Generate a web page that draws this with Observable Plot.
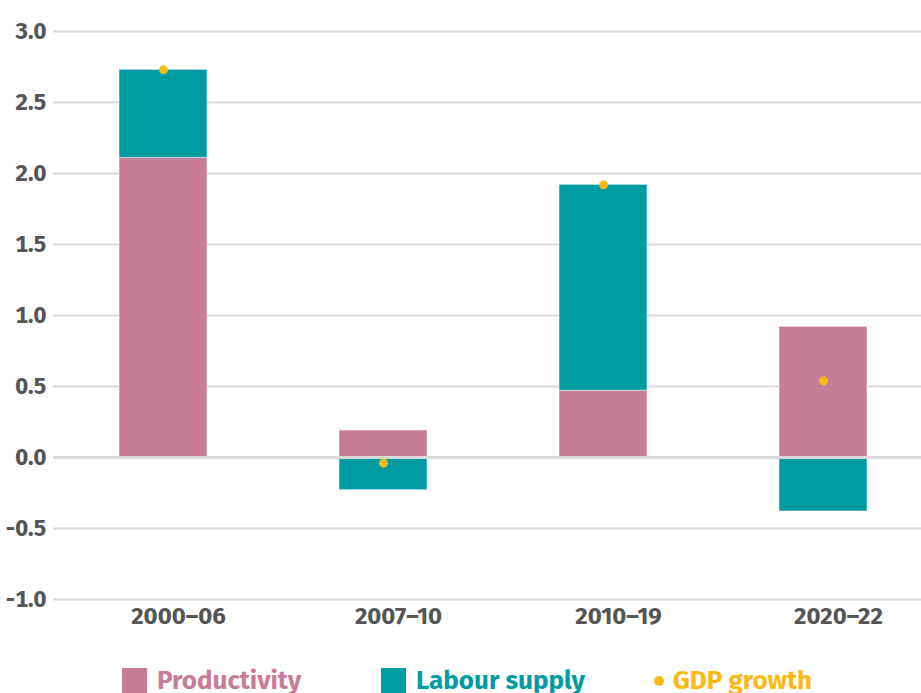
<!DOCTYPE html>
<html>
<head>
<meta charset="utf-8">
<script src="https://cdn.jsdelivr.net/npm/d3@7"></script>
<script src="https://cdn.jsdelivr.net/npm/@observablehq/plot@0.6"></script>
<style>
  html, body { margin: 0; padding: 0; background: #fff; overflow: hidden; }
  #wrap { position: relative; width: 921px; height: 693px; font-family: "Fira Sans", "Open Sans", sans-serif; }
  .legend { position: absolute; top: 665px; left: 0; width: 921px; height: 40px; font-size: 26px; font-weight: 700; }
  .item { position: absolute; top: 0; display: flex; align-items: center; white-space: nowrap; }
  .sw { width: 25px; height: 25px; margin-right: 10px; }
  .dot { width: 10px; height: 10px; border-radius: 50%; margin-right: 9px; }
</style>
</head>
<body>
<div id="wrap"></div>
<script>
// Contributions to GDP growth by period (percentage points)
const periods = ["2000–06", "2007–10", "2010–19", "2020–22"];
const productivity = [2.11, 0.19, 0.47, 0.92];
const labourSupply = [0.62, -0.23, 1.45, -0.38];
const gdpGrowth = [2.73, -0.04, 1.92, 0.54];
const yTicks = [-1, -0.5, 0, 0.5, 1, 1.5, 2, 2.5, 3];

const seriesNames = ["Productivity", "Labour supply"];
const seriesColors = ["#c77d97", "#009ca3"];
const dotColor = "#fdb913";
const textColor = "#555555";
const gridColor = "#d9d9d9";

const bars = [];
periods.forEach((p, i) => {
  bars.push({period: p, series: seriesNames[0], value: productivity[i]});
  bars.push({period: p, series: seriesNames[1], value: labourSupply[i]});
});
const dots = periods.map((p, i) => ({period: p, value: gdpGrowth[i]}));

const chart = Plot.plot({
  width: 921,
  height: 655,
  marginLeft: 53,
  marginRight: 0,
  marginTop: 31,
  marginBottom: 56,
  style: {fontFamily: '"Fira Sans", "Open Sans", sans-serif', fontSize: "24px", fontWeight: 700, color: textColor, background: "#fff"},
  x: {domain: periods, range: [53, 933], paddingInner: 0.6, paddingOuter: 0.3, label: null},
  y: {domain: [-1, 3], label: null},
  color: {domain: seriesNames, range: seriesColors},
  marks: [
    Plot.gridY(yTicks, {stroke: gridColor, strokeOpacity: 1, strokeWidth: 2}),
    Plot.barY(bars, Plot.stackY({x: "period", y: "value", fill: "series", order: seriesNames, stroke: "#ffffff", strokeWidth: 1, strokeOpacity: 0.5})),
    Plot.ruleY([0], {stroke: gridColor, strokeWidth: 3}),
    Plot.dot(dots, {x: "period", y: "value", r: 4.5, fill: dotColor}),
    Plot.axisY(yTicks, {tickSize: 0, tickPadding: 7, tickFormat: d => d.toFixed(1), fill: textColor, fontSize: 23, label: null}),
    Plot.axisX({tickSize: 0, tickPadding: 7, dx: 15, fill: textColor, fontSize: 24, label: null})
  ]
});

const wrap = document.getElementById("wrap");
wrap.appendChild(chart);

// Legend below the chart
const legend = document.createElement("div");
legend.className = "legend";
const items = [
  {label: seriesNames[0], color: seriesColors[0], left: 122, kind: "sw"},
  {label: seriesNames[1], color: seriesColors[1], left: 381, kind: "sw"},
  {label: "GDP growth", color: dotColor, left: 654, kind: "dot"}
];
items.forEach(it => {
  const d = document.createElement("div");
  d.className = "item";
  d.style.left = it.left + "px";
  const m = document.createElement("div");
  m.className = it.kind;
  m.style.background = it.color;
  const t = document.createElement("span");
  t.textContent = it.label;
  t.style.color = it.color;
  d.appendChild(m);
  d.appendChild(t);
  legend.appendChild(d);
});
wrap.appendChild(legend);
</script>
</body>
</html>
